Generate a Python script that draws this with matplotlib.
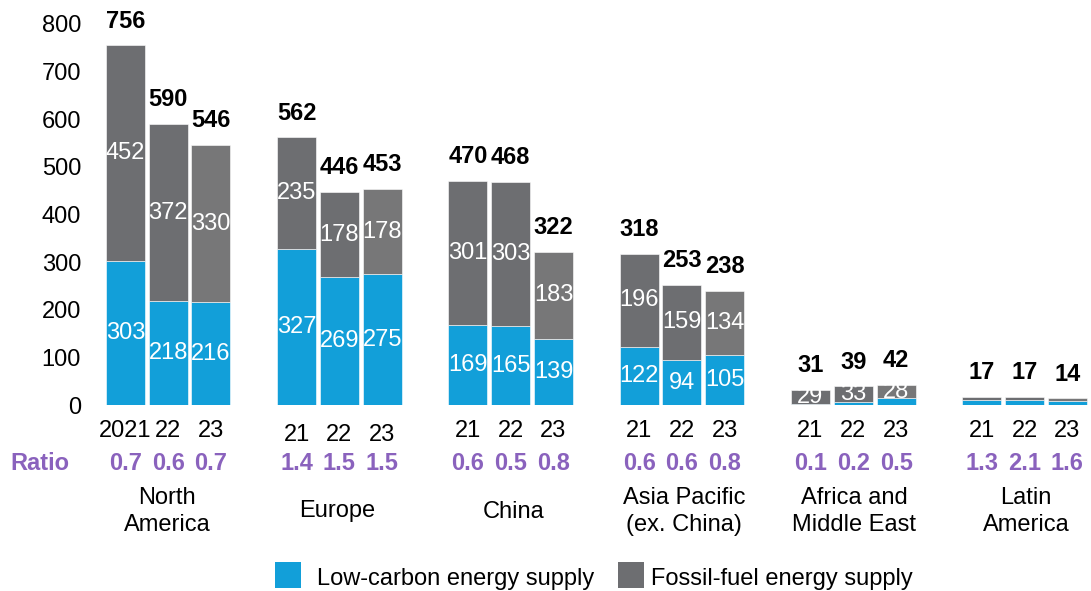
import numpy as np
import matplotlib.pyplot as plt
from matplotlib.patches import Rectangle

plt.rcParams['font.family'] = ['Liberation Sans', 'DejaVu Sans']

# Energy supply investment by region, 2021-2023 (billion USD)
regions = ['North\nAmerica', 'Europe', 'China', 'Asia Pacific\n(ex. China)',
           'Africa and\nMiddle East', 'Latin\nAmerica']
years = [['2021', '22', '23'], ['21', '22', '23'], ['21', '22', '23'],
         ['21', '22', '23'], ['21', '22', '23'], ['21', '22', '23']]
low_carbon = [[303, 218, 216], [327, 269, 275], [169, 165, 139],
              [122, 94, 105], [2, 6, 14], [9.6, 11.5, 8.6]]
fossil = [[452, 372, 330], [235, 178, 178], [301, 303, 183],
          [196, 159, 134], [29, 33, 28], [7.4, 5.5, 5.4]]
totals = [[756, 590, 546], [562, 446, 453], [470, 468, 322],
          [318, 253, 238], [31, 39, 42], [17, 17, 14]]
ratios = [['0.7', '0.6', '0.7'], ['1.4', '1.5', '1.5'], ['0.6', '0.5', '0.8'],
          ['0.6', '0.6', '0.8'], ['0.1', '0.2', '0.5'], ['1.3', '2.1', '1.6']]
show_inner = [True, True, True, True, True, False]
legend_labels = ['Low-carbon energy supply', 'Fossil-fuel energy supply']

# layout, x in pixels across the figure
W, H = 1091, 591
x0, group_gap, step, bar_w = 125.3, 171.3, 42.8, 39
region_shift = [-1, -2, 3, 2, 1, 1.5]
px_per_unit = 381 / 800


def y_data(ypix):
    # pixel row (from top) -> value units below/above the baseline
    return (405 - ypix) / px_per_unit


blue = '#129fd9'
grays = ['#6d6e71', '#6d6e71', '#777778']
purple = '#8a62bd'
fs = 17

fig = plt.figure(figsize=(W / 100, H / 100), dpi=100)
ax = fig.add_axes([95 / W, 1 - 405 / H, 1 - 95 / W, 381 / H])
ax.set_xlim(95, W)
ax.set_ylim(0, 800)

for g in range(len(regions)):
    for i in range(3):
        x = x0 + g * group_gap + i * step
        lo, fo, tot = low_carbon[g][i], fossil[g][i], totals[g][i]
        ax.bar(x, lo, width=bar_w, color=blue, edgecolor='white', linewidth=0.4)
        ax.bar(x, fo, bottom=lo, width=bar_w, color=grays[i],
               edgecolor='white', linewidth=0.4)
        ax.annotate(str(tot), (x, lo + fo), xytext=(0, 17.5), textcoords='offset points',
                    ha='center', va='center', fontsize=fs, fontweight='bold',
                    annotation_clip=False)
        if show_inner[g]:
            if lo >= 50:
                ax.text(x, lo / 2, str(lo), ha='center', va='center',
                        color='white', fontsize=fs)
            ax.text(x, lo + fo / 2, str(fo), ha='center', va='center',
                    color='white', fontsize=fs)
        year_y = y_data(435) if g == 1 else y_data(431)
        ax.text(x, year_y, years[g][i], ha='center', va='center',
                fontsize=fs, clip_on=False)
        ax.text(x, y_data(463.5), ratios[g][i], ha='center', va='center',
                color=purple, fontsize=fs, fontweight='bold', clip_on=False)
    gx = x0 + g * group_gap + step + region_shift[g]
    ax.text(gx, y_data(511.5), regions[g], ha='center', va='center',
            fontsize=fs, linespacing=1.25, clip_on=False)

ax.text(40, y_data(463.5), 'Ratio', ha='center', va='center', color=purple,
        fontsize=fs, fontweight='bold', clip_on=False)

ax.set_yticks(np.arange(0, 801, 100))
ax.tick_params(axis='y', length=0, pad=10, labelsize=fs)
ax.set_xticks([])
for s in ax.spines.values():
    s.set_visible(False)

# legend: squares and labels placed in figure pixels
legend_sq = [275, 618]
legend_txt = [317, 651]
for sx, tx, c, lab in zip(legend_sq, legend_txt, [blue, grays[0]], legend_labels):
    fig.add_artist(Rectangle((sx / W, 1 - 588 / H), 26 / W, 26 / H,
                             transform=fig.transFigure, color=c, lw=0))
    fig.text(tx / W, 1 - 585 / H, lab, ha='left', va='baseline', fontsize=fs)

fig.savefig('out.png', dpi=100)
